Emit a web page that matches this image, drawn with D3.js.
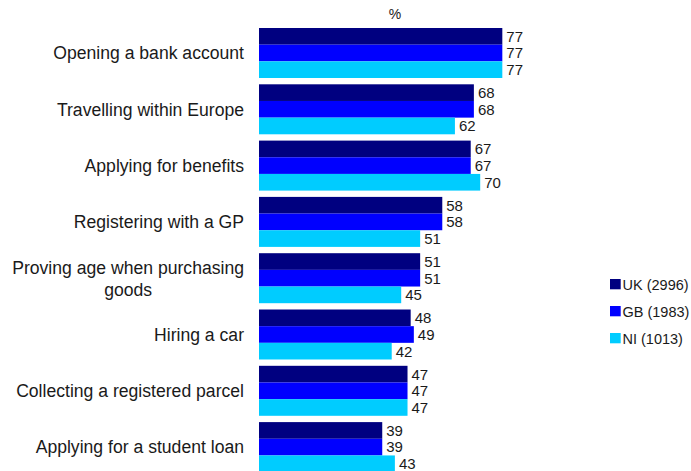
<!DOCTYPE html>
<html>
<head>
<meta charset="utf-8">
<script src="https://cdn.jsdelivr.net/npm/d3@7"></script>
<style>
  html, body { margin: 0; padding: 0; background: #fff; }
  svg { display: block; font-family: "Liberation Sans", Arial, sans-serif; }
</style>
</head>
<body>
<svg id="chart" width="691" height="471"></svg>
<script>
// Categories (top to bottom), each may wrap onto two lines
const categories = [
  "Opening a bank account",
  "Travelling within Europe",
  "Applying for benefits",
  "Registering with a GP",
  "Proving age when purchasing goods",
  "Hiring a car",
  "Collecting a registered parcel",
  "Applying for a student loan"
];
const categoryLines = [
  ["Opening a bank account"],
  ["Travelling within Europe"],
  ["Applying for benefits"],
  ["Registering with a GP"],
  ["Proving age when purchasing", "goods"],
  ["Hiring a car"],
  ["Collecting a registered parcel"],
  ["Applying for a student loan"]
];

// Series names and values (%)
const seriesNames = ["UK (2996)", "GB (1983)", "NI (1013)"];
const ukValues = [77, 68, 67, 58, 51, 48, 47, 39];
const gbValues = [77, 68, 67, 58, 51, 49, 47, 39];
const niValues = [77, 62, 70, 51, 45, 42, 47, 43];
const seriesColors = ["#000080", "#0000ff", "#00ccff"];
const axisTitle = "%";

const seriesValues = [ukValues, gbValues, niValues];
const rows = categories.map((c, i) => ({
  category: c,
  lines: categoryLines[i],
  values: seriesNames.map((s, j) => ({ series: s, value: seriesValues[j][i], idx: j }))
}));

const svg = d3.select("#chart");
const textColor = "#1a1a1a";

const x = d3.scaleLinear().domain([0, 100]).range([259, 575]);
const y = d3.scaleBand()
  .domain(categories)
  .range([24.85, 475.25])
  .paddingInner(0.112)
  .paddingOuter(0.056);
const ySub = d3.scaleBand()
  .domain(seriesNames)
  .range([0, y.bandwidth()]);
const color = d3.scaleOrdinal().domain(seriesNames).range(seriesColors);

// Axis title
svg.append("text")
  .attr("x", 395)
  .attr("y", 19)
  .attr("text-anchor", "middle")
  .attr("font-size", 14)
  .attr("fill", textColor)
  .text(axisTitle);

// Groups of bars
const groups = svg.selectAll("g.group")
  .data(rows)
  .join("g")
  .attr("class", "group")
  .attr("transform", d => `translate(0,${y(d.category)})`);

groups.selectAll("rect")
  .data(d => d.values)
  .join("rect")
  .attr("x", x(0))
  .attr("y", d => ySub(d.series))
  .attr("width", d => x(d.value) - x(0))
  .attr("height", ySub.bandwidth())
  .attr("fill", d => color(d.series));

groups.selectAll("text.value")
  .data(d => d.values)
  .join("text")
  .attr("class", "value")
  .attr("x", d => x(d.value) + 4)
  .attr("y", d => ySub(d.series) + ySub.bandwidth() / 2)
  .attr("dy", "0.36em")
  .attr("font-size", 15)
  .attr("fill", textColor)
  .text(d => d.value);

// Category labels: single lines right-aligned, wrapped labels centred as a block
const labelRight = 244;
const labelSize = 17.6;
const lineGap = 22;
groups.each(function(d) {
  const g = d3.select(this);
  const cy = y.bandwidth() / 2;
  if (d.lines.length === 1) {
    g.append("text")
      .attr("x", labelRight)
      .attr("y", cy)
      .attr("dy", "0.36em")
      .attr("text-anchor", "end")
      .attr("font-size", labelSize)
      .attr("fill", textColor)
      .text(d.lines[0]);
  } else {
    const t = g.append("text")
      .attr("font-size", labelSize)
      .attr("fill", textColor)
      .attr("text-anchor", "middle");
    const spans = t.selectAll("tspan")
      .data(d.lines)
      .join("tspan")
      .attr("y", (l, i) => cy + (i - (d.lines.length - 1) / 2) * lineGap)
      .attr("dy", "0.36em")
      .text(l => l);
    // centre the block on the widest line, whose right edge sits at labelRight
    const widths = [];
    spans.each(function() { widths.push(this.getComputedTextLength()); });
    const maxW = d3.max(widths);
    spans.attr("x", labelRight - maxW / 2);
  }
});

// Legend
const legend = svg.append("g").attr("transform", "translate(610,279)");
const items = legend.selectAll("g")
  .data(seriesNames)
  .join("g")
  .attr("transform", (d, i) => `translate(0,${i * 27})`);
items.append("rect")
  .attr("width", 10.7)
  .attr("height", 10.3)
  .attr("fill", d => color(d));
items.append("text")
  .attr("x", 12.5)
  .attr("y", 5.3)
  .attr("dy", "0.36em")
  .attr("font-size", 14.5)
  .attr("fill", textColor)
  .text(d => d);
</script>
</body>
</html>
